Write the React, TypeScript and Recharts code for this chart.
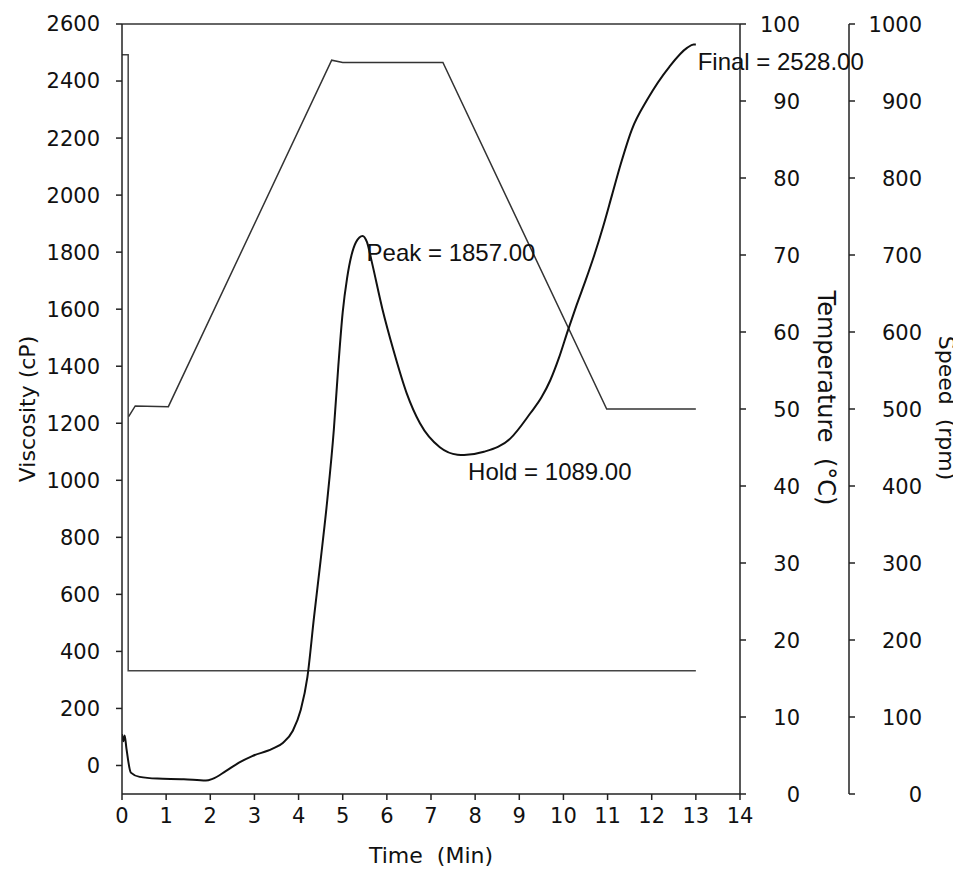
import { LineChart, Line, XAxis, YAxis, ReferenceLine, ReferenceDot } from "recharts";

// viscosity trace (cP) against time (min)
const viscTime = [
  0, 0.03, 0.06, 0.1, 0.2, 0.4, 0.8, 1.4, 1.9, 2.05, 2.35, 2.65, 2.95, 3.4, 3.65, 3.87,
  4.05, 4.2, 4.35, 4.5, 4.65, 4.8, 4.9, 5.0, 5.1, 5.2, 5.3, 5.45, 5.55, 5.66, 5.9, 6.15,
  6.45, 6.75, 7.2, 7.6, 7.75, 8.2, 8.8, 9.25, 9.5, 9.7, 9.9, 10.1, 10.3, 10.5, 10.7, 10.9,
  11.1, 11.3, 11.55, 11.9, 12.4, 12.8, 12.95, 13.0,
];
const viscValues = [
  110, 85, 105, 60, -25, -40, -46, -48, -53, -47, -20, 10, 33, 58, 80, 122,
  195, 310, 520, 720, 930, 1180, 1400, 1590, 1710, 1790, 1835, 1857, 1835, 1765, 1600, 1456,
  1305, 1200, 1116, 1090, 1089, 1100, 1147, 1235, 1290, 1350, 1430, 1525, 1615, 1700, 1790, 1890,
  2000, 2110, 2230, 2335, 2450, 2516, 2528, 2528,
];

// temperature profile (°C)
const tempTime = [0.15, 0.3, 1.05, 4.75, 5.0, 7.27, 10.98, 13.0];
const tempValues = [49, 50.4, 50.3, 95.3, 95, 95, 50, 50];

// paddle speed (rpm)
const speedTime = [0, 0.14, 0.14, 13.0];
const speedValues = [960, 960, 160, 160];

const timeTicks = [0, 1, 2, 3, 4, 5, 6, 7, 8, 9, 10, 11, 12, 13, 14];
const viscTicks = [0, 200, 400, 600, 800, 1000, 1200, 1400, 1600, 1800, 2000, 2200, 2400, 2600];
const tempTicks = [0, 10, 20, 30, 40, 50, 60, 70, 80, 90, 100];
const speedTicks = [0, 100, 200, 300, 400, 500, 600, 700, 800, 900, 1000];

const markerNames = ["Peak", "Hold", "Final"];
const markerTimes = [5.45, 7.75, 12.95];
const markerValues = [1857, 1089, 2528];

const viscData = viscTime.map((t, i) => ({ time: t, visc: viscValues[i] }));
const tempData = tempTime.map((t, i) => ({ time: t, temp: tempValues[i] }));
const speedData = speedTime.map((t, i) => ({ time: t, speed: speedValues[i] }));

const tickFont = "'DejaVu Sans', sans-serif";
const tickStyle = { fontSize: 21, fill: "#111", fontFamily: tickFont };

function RightTick(props: any) {
  const { x, y, payload, end } = props;
  return (
    <text x={x + end} y={y} dy="0.36em" textAnchor="end" fontSize={21} fill="#111" fontFamily={tickFont}>
      {payload.value}
    </text>
  );
}

function AxisTitle(props: any) {
  const { viewBox, text, dx, dy, angle, size } = props;
  const cx = viewBox.x + dx;
  const cy = viewBox.y + (dy === undefined ? viewBox.height / 2 : dy);
  return (
    <text
      x={cx}
      y={cy}
      textAnchor="middle"
      dominantBaseline="central"
      transform={angle ? `rotate(${angle}, ${cx}, ${cy})` : undefined}
      fontSize={size || 22}
      fill="#111"
      fontFamily={tickFont}
      style={{ whiteSpace: "pre" }}
    >
      {text}
    </text>
  );
}

function Annotation(props: any) {
  const { viewBox, text } = props;
  return (
    <text
      x={viewBox.x + 4}
      y={viewBox.y + 17}
      dominantBaseline="central"
      fontSize={24}
      fill="#111"
      fontFamily="'Liberation Sans', Arial, sans-serif"
    >
      {text}
    </text>
  );
}

// right axes are stacked in id order: r1 next to the plot, r2 outside it
export default function App() {
  return (
    <LineChart width={953} height={858} margin={{ top: 16, right: 5, bottom: 0, left: 0 }}>
      <XAxis
        dataKey="time"
        type="number"
        domain={[0, 14]}
        ticks={timeTicks}
        height={72}
        tickSize={6}
        tickMargin={8}
        stroke="#222"
        strokeWidth={1.5}
        tick={tickStyle}
        allowDataOverflow
        label={{ content: (p: any) => <AxisTitle {...p} text={"Time  (Min)"} dx={p.viewBox.width / 2} dy={61} /> }}
      />
      <YAxis
        yAxisId="visc"
        orientation="left"
        width={114}
        domain={[-100, 2600]}
        ticks={viscTicks}
        tickSize={6}
        tickMargin={16}
        stroke="#222"
        strokeWidth={1.5}
        tick={tickStyle}
        allowDataOverflow
        label={{ content: (p: any) => <AxisTitle {...p} text="Viscosity (cP)" dx={19} angle={-90} /> }}
      />
      <YAxis
        yAxisId="r1Temp"
        orientation="right"
        width={109}
        domain={[0, 100]}
        ticks={tempTicks}
        tickSize={6}
        stroke="#222"
        strokeWidth={1.5}
        tick={(p: any) => <RightTick {...p} end={52} />}
        allowDataOverflow
        label={{ content: (p: any) => <AxisTitle {...p} text={"Temperature  (°C)"} dx={86} dy={374} angle={90} size={24} /> }}
      />
      <YAxis
        yAxisId="r2Speed"
        orientation="right"
        width={107}
        domain={[0, 1000]}
        ticks={speedTicks}
        tickSize={6}
        stroke="#222"
        strokeWidth={1.5}
        tick={(p: any) => <RightTick {...p} end={65} />}
        allowDataOverflow
        label={{ content: (p: any) => <AxisTitle {...p} text={"Speed  (rpm)"} dx={97} dy={384} angle={90} /> }}
      />
      <ReferenceLine yAxisId="visc" y={2600} stroke="#333" strokeWidth={1.5} />
      <Line
        yAxisId="r2Speed"
        data={speedData}
        dataKey="speed"
        type="linear"
        stroke="#444"
        strokeWidth={1.5}
        dot={false}
        isAnimationActive={false}
      />
      <Line
        yAxisId="r1Temp"
        data={tempData}
        dataKey="temp"
        type="linear"
        stroke="#333"
        strokeWidth={1.5}
        dot={false}
        isAnimationActive={false}
      />
      <Line
        yAxisId="visc"
        data={viscData}
        dataKey="visc"
        type="monotone"
        stroke="#111"
        strokeWidth={2}
        dot={false}
        isAnimationActive={false}
      />
      {markerNames.map((name, i) => (
        <ReferenceDot
          key={name}
          yAxisId="visc"
          x={markerTimes[i]}
          y={markerValues[i]}
          r={0}
          stroke="none"
          fill="none"
          label={{
            content: (p: any) => <Annotation {...p} text={`${name} = ${markerValues[i].toFixed(2)}`} />,
          }}
        />
      ))}
    </LineChart>
  );
}
